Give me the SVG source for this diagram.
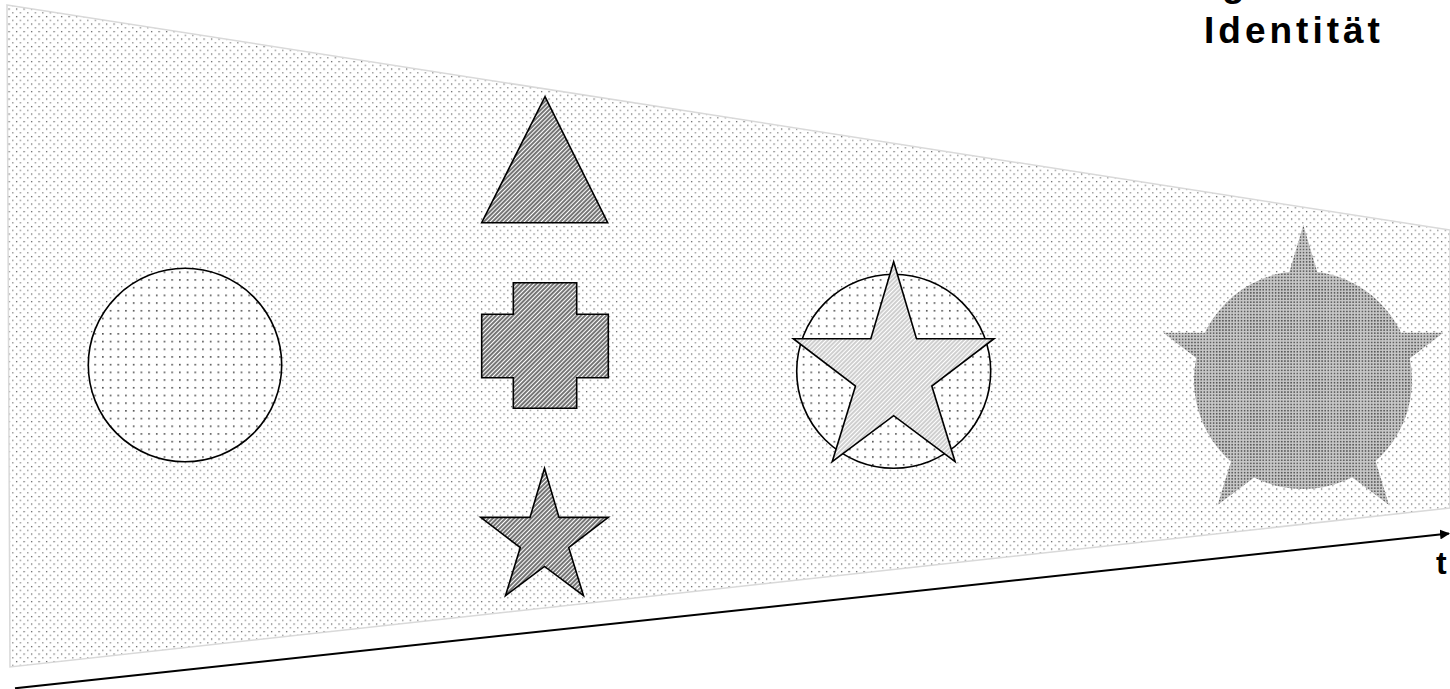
<svg xmlns="http://www.w3.org/2000/svg" width="1450" height="689" viewBox="0 0 1450 689">
<style>
.outline{fill:none;stroke:#000;stroke-width:1.6;stroke-linejoin:miter}
.lbl{font-family:"Liberation Sans",Arial,sans-serif;font-weight:bold;fill:#000}
</style>
<defs>
<pattern id="bgDots" width="7.5" height="7.5" patternUnits="userSpaceOnUse">
<rect x="1" y="1" width="1.2" height="1.2" fill="#4a4a4a"/>
<rect x="4.75" y="4.75" width="1.2" height="1.2" fill="#6a6a6a"/>
</pattern>
<pattern id="circDots" width="7.7" height="7.7" patternUnits="userSpaceOnUse">
<rect width="7.7" height="7.7" fill="#fff"/>
<rect x="2" y="2" width="1.5" height="1.5" fill="#333"/>
</pattern>
<pattern id="hatchDark" width="3" height="3" patternUnits="userSpaceOnUse" patternTransform="rotate(45)">
<rect width="3" height="3" fill="#fff"/>
<line x1="1" y1="0" x2="1" y2="3" stroke="#3a3a3a" stroke-width="1.4"/>
</pattern>
<pattern id="hatchLight" width="3" height="3" patternUnits="userSpaceOnUse" patternTransform="rotate(45)">
<rect width="3" height="3" fill="#fff"/>
<line x1="1" y1="0" x2="1" y2="3" stroke="#b5b5b5" stroke-width="1.3"/>
</pattern>
<pattern id="denseDots" width="3.1" height="3.1" patternUnits="userSpaceOnUse">
<rect width="3.1" height="3.1" fill="#c8c8c8"/>
<circle cx="1.5" cy="1.5" r="0.9" fill="#555"/>
</pattern>
<marker id="arrow" markerWidth="10" markerHeight="10" refX="9" refY="5" orient="auto" markerUnits="userSpaceOnUse" viewBox="0 0 10 10">
<path d="M0,0 L10,5 L0,10 Z" fill="#000"/>
</marker>
</defs>
<rect width="1450" height="689" fill="#fff"/>

<g id="band">
<polygon points="7,5 1450,230 1450,508 10,667" fill="url(#bgDots)" stroke="#d9d9d9" stroke-width="1.5"/>
</g>

<g id="circle-start">
<circle cx="185" cy="365" r="96.7" fill="url(#circDots)"/>
<circle cx="185" cy="365" r="96.7" class="outline"/>
</g>

<g id="triangle">
<polygon points="545,96.7 607.7,222.7 481.7,222.7" fill="url(#hatchDark)"/>
<polygon points="545,96.7 607.7,222.7 481.7,222.7" class="outline"/>
</g>

<g id="cross">
<polygon points="513.3,282.7 576.7,282.7 576.7,314.3 608.3,314.3 608.3,377.7 576.7,377.7 576.7,408.3 513.3,408.3 513.3,377.7 481.7,377.7 481.7,314.3 513.3,314.3" fill="url(#hatchDark)"/>
<polygon points="513.3,282.7 576.7,282.7 576.7,314.3 608.3,314.3 608.3,377.7 576.7,377.7 576.7,408.3 513.3,408.3 513.3,377.7 481.7,377.7 481.7,314.3 513.3,314.3" class="outline"/>
</g>

<g id="star-small">
<polygon points="544.5,468.3 559,517.4 608.3,517.4 568.7,547.5 583.5,595.7 544.5,566.4 505.5,595.7 520.3,547.5 480.7,517.4 530,517.4" fill="url(#hatchDark)"/>
<polygon points="544.5,468.3 559,517.4 608.3,517.4 568.7,547.5 583.5,595.7 544.5,566.4 505.5,595.7 520.3,547.5 480.7,517.4 530,517.4" class="outline"/>
</g>

<g id="circle-star">
<circle cx="893.7" cy="371.2" r="97" fill="url(#circDots)"/>
<circle cx="893.7" cy="371.2" r="97" class="outline"/>
<polygon points="893.65,261.7 916.5,338.7 994,338.7 931.8,386.1 955.1,461.7 893.65,415.7 832.2,461.7 855.5,386.1 793.3,338.7 870.8,338.7" fill="url(#hatchLight)"/>
<polygon points="893.65,261.7 916.5,338.7 994,338.7 931.8,386.1 955.1,461.7 893.65,415.7 832.2,461.7 855.5,386.1 793.3,338.7 870.8,338.7" class="outline"/>
</g>

<g id="merged">
<circle cx="1303" cy="380" r="109" fill="url(#denseDots)"/>
<polygon points="1303.3,225 1335.2,332.8 1443.3,332.8 1356.5,399.2 1389,505 1303.3,440.6 1217.6,505 1250.1,399.2 1163.3,332.8 1271.4,332.8" fill="url(#denseDots)"/>
</g>

<g id="connectors">
<line x1="15" y1="688.3" x2="1449" y2="533.5" stroke="#000" stroke-width="2" marker-end="url(#arrow)"/>
</g>

<g id="labels">
<text class="lbl" x="1222" y="-3.8" font-size="37">g</text>
<text class="lbl" x="1436" y="574" font-size="32">t</text>
<text class="lbl" x="1204" y="43.3" font-size="37" letter-spacing="4">Identität</text>
</g>
</svg>
